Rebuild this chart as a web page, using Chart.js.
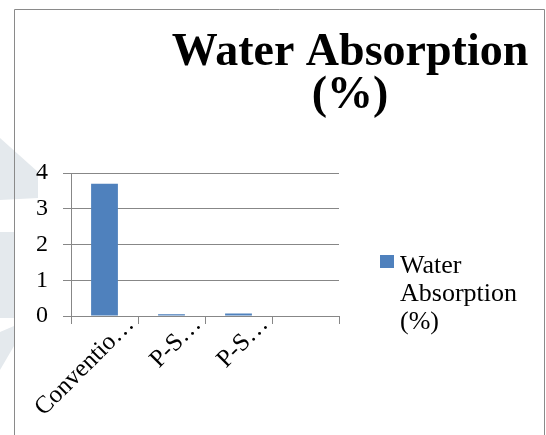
<!DOCTYPE html>
<html>
<head>
<meta charset="utf-8">
<script src="https://cdn.jsdelivr.net/npm/chart.js@4/dist/chart.umd.min.js"></script>
<style>
  html, body { margin: 0; padding: 0; background: #ffffff; }
  #wrap { position: relative; width: 546px; height: 435px; }
</style>
</head>
<body>
<div id="wrap"><canvas id="chart" width="546" height="435"></canvas></div>
<script>
// Category labels (as shown under the axis) and the measured values
const categories = ['Conventio\u2026', 'P-S\u2026', 'P-S\u2026', ''];
const waterAbsorption = [3.7, 0.05, 0.07, null];
const seriesName = 'Water Absorption (%)';
const titleLines = ['Water Absorption', '(%)'];
const legendLines = ['Water', 'Absorption', '(%)'];
const yTicks = [0, 1, 2, 3, 4];

const SERIF = '"Liberation Serif", "Times New Roman", serif';
const BAR_BLUE = '#4f81bd';
const GRID = '#878787';

// Page frame, faint background shapes, title and wrapped legend
const decorations = {
  id: 'decorations',
  beforeDraw(chart) {
    const ctx = chart.ctx;
    ctx.save();
    ctx.fillStyle = '#ffffff';
    ctx.fillRect(0, 0, chart.width, chart.height);
    ctx.fillStyle = '#e4e9ed';
    ctx.beginPath();
    ctx.moveTo(0, 138); ctx.lineTo(38, 172); ctx.lineTo(38, 198); ctx.lineTo(0, 200);
    ctx.closePath(); ctx.fill();
    ctx.fillRect(0, 232, 14, 86);
    ctx.beginPath();
    ctx.moveTo(0, 332); ctx.lineTo(14, 326); ctx.lineTo(14, 346); ctx.lineTo(0, 370);
    ctx.closePath(); ctx.fill();
    ctx.strokeStyle = '#8a8a8a';
    ctx.lineWidth = 1;
    ctx.beginPath();
    ctx.moveTo(14.5, 435); ctx.lineTo(14.5, 9.5); ctx.lineTo(544.5, 9.5); ctx.lineTo(544.5, 435);
    ctx.stroke();
    ctx.restore();
  },
  afterDraw(chart) {
    const ctx = chart.ctx;
    ctx.save();
    ctx.fillStyle = '#000000';
    ctx.textAlign = 'center';
    ctx.textBaseline = 'alphabetic';
    ctx.font = 'bold 46px ' + SERIF;
    ctx.fillText(titleLines[0], 350, 65);
    ctx.fillText(titleLines[1], 350, 108);

    const ds = chart.data.datasets[0];
    ctx.fillStyle = ds.backgroundColor;
    ctx.fillRect(380, 255, 14, 13);
    ctx.fillStyle = '#000000';
    ctx.textAlign = 'left';
    ctx.font = '26px ' + SERIF;
    legendLines.forEach((line, i) => ctx.fillText(line, 400, 273 + i * 28));
    ctx.restore();
  }
};

new Chart(document.getElementById('chart'), {
  type: 'bar',
  data: {
    labels: categories,
    datasets: [{
      label: seriesName,
      data: waterAbsorption,
      backgroundColor: BAR_BLUE,
      borderWidth: 0,
      barPercentage: 0.4,
      categoryPercentage: 1.0
    }]
  },
  options: {
    responsive: false,
    animation: false,
    layout: { padding: { left: 14, top: 173, right: 207, bottom: 0 } },
    plugins: {
      legend: { display: false },
      title: { display: false },
      tooltip: { enabled: false }
    },
    scales: {
      x: {
        offset: true,
        grid: { offset: true, drawOnChartArea: false, color: GRID, tickLength: 8 },
        border: { display: true, color: GRID, width: 1 },
        ticks: {
          color: '#000000',
          font: { family: SERIF, size: 25 },
          minRotation: 45,
          maxRotation: 45,
          autoSkip: false,
          labelOffset: 26,
          padding: -14
        },
        afterFit(scale) { scale.height = 119; }
      },
      y: {
        min: 0,
        max: 4,
        afterBuildTicks(scale) { scale.ticks = yTicks.map(v => ({ value: v })); },
        grid: { color: GRID, tickLength: 8 },
        border: { display: true, color: GRID, width: 1 },
        ticks: {
          color: '#000000',
          font: { family: SERIF, size: 24 },
          padding: 15
        },
        afterFit(scale) { scale.width = 57; }
      }
    }
  },
  plugins: [decorations]
});
</script>
</body>
</html>
